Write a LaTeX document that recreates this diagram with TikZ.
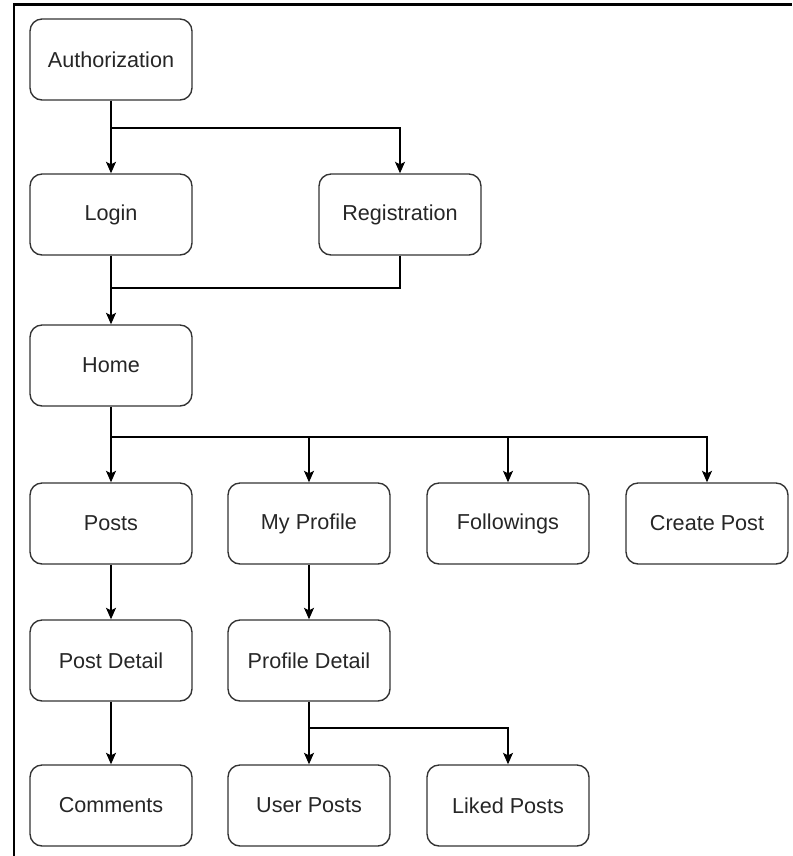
\documentclass[tikz,border=0pt]{standalone}
\usepackage{fontspec}
\setmainfont{Liberation Sans}
\usetikzlibrary{arrows.meta}

\tikzset{
  screen/.style={draw=black!80, line width=0.8pt, rounded corners=0.24cm,
    minimum width=3.24cm, minimum height=1.62cm, inner sep=0pt,
    font=\fontsize{12.3}{14}\selectfont, text=black!85},
  link/.style={line width=0.8pt, black},
  tip/.style={-{Stealth[length=2.3mm,width=2mm,inset=0.5mm]}}
}

\begin{document}
\begin{tikzpicture}[x=0.02cm, y=-0.02cm]

\useasboundingbox (0,0) rectangle (792,856);

% frame
\draw [line width=1.3pt] (14,856) -- (14,4.5) -- (792,4.5);

\node[screen] (auth) at (111,59.5) {Authorization};
\node[screen] (login) at (111,214.5) {Login};
\node[screen] (reg) at (400,214.5) {Registration};
\node[screen] (home) at (111,365.5) {Home};

\node[screen] (posts) at (111,523.5) {Posts};
\node[screen] (myprof) at (309,523.5) {My Profile};
\node[screen] (follow) at (508,523.5) {Followings};
\node[screen] (create) at (707,523.5) {Create Post};

\node[screen] (pdetail) at (111,660.5) {Post Detail};
\node[screen] (prdetail) at (309,660.5) {Profile Detail};

\node[screen] (comments) at (111,805.5) {Comments};
\node[screen] (uposts) at (309,805.5) {User Posts};
\node[screen] (lposts) at (508,805.5) {Liked Posts};

% junctions
\coordinate (j1) at (111,128);
\coordinate (j2) at (111,288);
\coordinate (j3) at (111,437);
\coordinate (j4) at (309,728);

\draw [link] (auth) -- (j1);
\draw [link,tip] (j1) -- (login);
\draw [link,tip] (j1) -| (reg);

\draw [link,tip] (login) -- (home);
\draw [link] (reg) |- (j2);

\draw [link] (home) -- (j3);
\foreach \n in {posts,myprof,follow,create} {
	\draw [link,tip] (j3) -| (\n);
}

\draw [link,tip] (posts) -- (pdetail);
\draw [link,tip] (pdetail) -- (comments);
\draw [link,tip] (myprof) -- (prdetail);

\draw [link] (prdetail) -- (j4);
\draw [link,tip] (j4) -- (uposts);
\draw [link,tip] (j4) -| (lposts);
\end{tikzpicture}
\end{document}
